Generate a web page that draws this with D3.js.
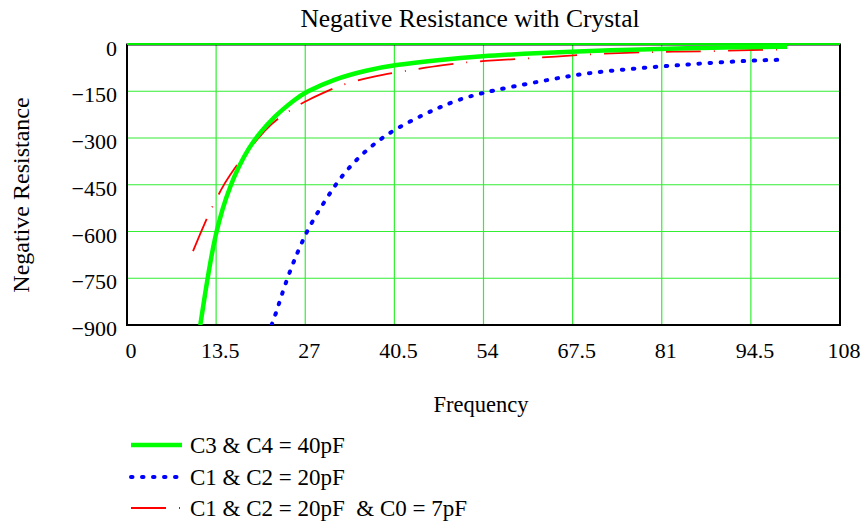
<!DOCTYPE html>
<html>
<head>
<meta charset="utf-8">
<script src="https://cdn.jsdelivr.net/npm/d3@7"></script>
<style>
  body { margin: 0; background: #fff; }
  text { font-family: "Liberation Serif", "Times New Roman", serif; fill: #000; }
</style>
</head>
<body>
<div id="chart"></div>
<script>
// values
var xTicks = [0, 13.5, 27, 40.5, 54, 67.5, 81, 94.5, 108];
var yTicks = [0, -150, -300, -450, -600, -750, -900];

var greenF = [11.1, 11.9, 12.6, 13.4, 14.4, 15.7, 16.9, 18.4, 20.2, 22.7, 23.5, 25.3, 27.0, 31.3, 36.4, 40.4, 47, 54.0, 60, 66.7, 76.7, 85, 91.9, 100.0];
var greenR = [-900, -790, -700, -612, -530, -450, -393, -333, -280, -225, -210, -179, -153, -111, -82, -66, -50, -37, -30, -23, -16, -12, -9, -7];

var blueF = [21.9, 22.6, 23.1, 23.7, 24.3, 24.9, 25.5, 26.0, 26.8, 27.4, 28.8, 30.6, 32.3, 34.6, 37.4, 40.7, 45.0, 47.5, 50.5, 53.5, 58.1, 64.2, 69.2, 75.8, 82.3, 88.9, 96.0, 99.5];
var blueR = [-900, -860, -826, -787, -750, -716, -684, -659, -621, -594, -541, -482, -428, -372, -318, -270, -224, -200, -175, -157, -136, -112, -93, -79, -68, -58, -50, -49];

var redF = [10.0, 11.7, 12.6, 14.4, 15.4, 17.7, 21.2, 22.5, 25.5, 27.3, 30.6, 32.8, 36.4, 38.9, 41.4, 48.0, 54.0, 61.6, 69.2, 76.8, 83.3, 89.9, 97.0, 99.5];
var redR = [-663, -577, -534, -459, -425, -355, -268, -243, -200, -179, -147, -127, -107, -96, -88, -64, -52, -44, -32, -25, -23, -21, -16, -16];

var legendLabels = ["C3 & C4 = 40pF", "C1 & C2 = 20pF", "C1 & C2 = 20pF  & C0 = 7pF"];

function drawChart() {
    var width = 865, height = 523;
    var pLeft = 127, pRight = 840, pTop = 44.5, pBottom = 325;

    var svg = d3.select("#chart").append("svg")
        .attr("width", width)
        .attr("height", height);

    var x = d3.scaleLinear().domain([0, 108]).range([pLeft, pRight]);
    var y = d3.scaleLinear().domain([-900, 0]).range([pBottom, pTop]);

    svg.append("defs").append("clipPath").attr("id", "plotclip")
        .append("rect")
        .attr("x", pLeft).attr("y", pTop - 3)
        .attr("width", pRight - pLeft).attr("height", pBottom - pTop + 3);

    // grid
    svg.selectAll(".vgrid")
        .data(xTicks.slice(1, -1))
        .enter()
        .append("line")
        .attr("class", "vgrid")
        .attr("x1", function (d) { return x(d); })
        .attr("x2", function (d) { return x(d); })
        .attr("y1", pTop)
        .attr("y2", pBottom)
        .attr("stroke", "#33ee33")
        .attr("stroke-width", 1.2);

    svg.selectAll(".hgrid")
        .data(yTicks.slice(1, -1))
        .enter()
        .append("line")
        .attr("class", "hgrid")
        .attr("x1", pLeft)
        .attr("x2", pRight)
        .attr("y1", function (d) { return y(d); })
        .attr("y2", function (d) { return y(d); })
        .attr("stroke", "#33ee33")
        .attr("stroke-width", 1.2);

    // frame
    svg.append("rect")
        .attr("x", pLeft)
        .attr("y", pTop)
        .attr("width", pRight - pLeft)
        .attr("height", pBottom - pTop)
        .attr("fill", "none")
        .attr("stroke", "#000")
        .attr("stroke-width", 2);

    // zero line sits on top of the frame
    svg.append("line")
        .attr("x1", pLeft)
        .attr("x2", pRight)
        .attr("y1", y(0) - 0.5)
        .attr("y2", y(0) - 0.5)
        .attr("stroke", "#00ee00")
        .attr("stroke-width", 2);

    // axis tick labels
    svg.selectAll(".xlab")
        .data(xTicks)
        .enter()
        .append("text")
        .attr("class", "xlab")
        .attr("x", function (d) { return x(d) + 4; })
        .attr("y", 358)
        .attr("text-anchor", "middle")
        .style("font-size", "22px")
        .text(function (d) { return d; });

    svg.selectAll(".ylab")
        .data(yTicks)
        .enter()
        .append("text")
        .attr("class", "ylab")
        .attr("x", 117)
        .attr("y", function (d) { return y(d) + 11; })
        .attr("text-anchor", "end")
        .style("font-size", "22px")
        .text(function (d) { return d < 0 ? "\u2212" + (-d) : d; });

    // titles
    svg.append("text")
        .attr("x", 470)
        .attr("y", 27)
        .attr("text-anchor", "middle")
        .style("font-size", "25.5px")
        .text("Negative Resistance with Crystal");

    svg.append("text")
        .attr("transform", "translate(29,195) rotate(-90)")
        .attr("text-anchor", "middle")
        .style("font-size", "24px")
        .text("Negative Resistance");

    svg.append("text")
        .attr("x", 481)
        .attr("y", 412)
        .attr("text-anchor", "middle")
        .style("font-size", "22.5px")
        .text("Frequency");

    // curves
    var line = d3.line()
        .x(function (d) { return x(d[0]); })
        .y(function (d) { return y(d[1]); })
        .curve(d3.curveBasis);

    var plot = svg.append("g").attr("clip-path", "url(#plotclip)");

    plot.append("path")
        .datum(d3.zip(redF, redR))
        .attr("d", line)
        .attr("fill", "none")
        .attr("stroke", "#ff0000")
        .attr("stroke-width", 1.8)
        .attr("stroke-dasharray", "35,13,1,13");

    plot.append("path")
        .datum(d3.zip(blueF, blueR))
        .attr("d", line)
        .attr("fill", "none")
        .attr("stroke", "#0000ff")
        .attr("stroke-width", 4)
        .attr("stroke-linecap", "round")
        .attr("stroke-dasharray", "1.5,9.5");

    plot.append("path")
        .datum(d3.zip(greenF, greenR))
        .attr("d", line)
        .attr("fill", "none")
        .attr("stroke", "#00ff00")
        .attr("stroke-width", 4.5);

    // legend
    var legendY = [445, 477, 508];
    var legendStyle = [
        { color: "#00ff00", w: 4.5, dash: null, cap: "butt", x2: 182 },
        { color: "#0000ff", w: 4, dash: "1.5,9.5", cap: "round", x2: 182 },
        { color: "#ff0000", w: 1.8, dash: "35,13,1,13", cap: "butt", x2: 181 }
    ];

    var legend = svg.selectAll(".legend")
        .data(legendLabels)
        .enter()
        .append("g")
        .attr("class", "legend");

    legend.append("line")
        .attr("x1", 131)
        .attr("x2", function (d, i) { return legendStyle[i].x2; })
        .attr("y1", function (d, i) { return legendY[i]; })
        .attr("y2", function (d, i) { return legendY[i]; })
        .attr("stroke", function (d, i) { return legendStyle[i].color; })
        .attr("stroke-width", function (d, i) { return legendStyle[i].w; })
        .attr("stroke-linecap", function (d, i) { return legendStyle[i].cap; })
        .attr("stroke-dasharray", function (d, i) { return legendStyle[i].dash; });

    legend.append("text")
        .attr("x", 190)
        .attr("y", function (d, i) { return legendY[i] + 8; })
        .style("font-size", "23px")
        .style("white-space", "pre")
        .text(function (d) { return d; });
}

drawChart();
</script>
</body>
</html>
